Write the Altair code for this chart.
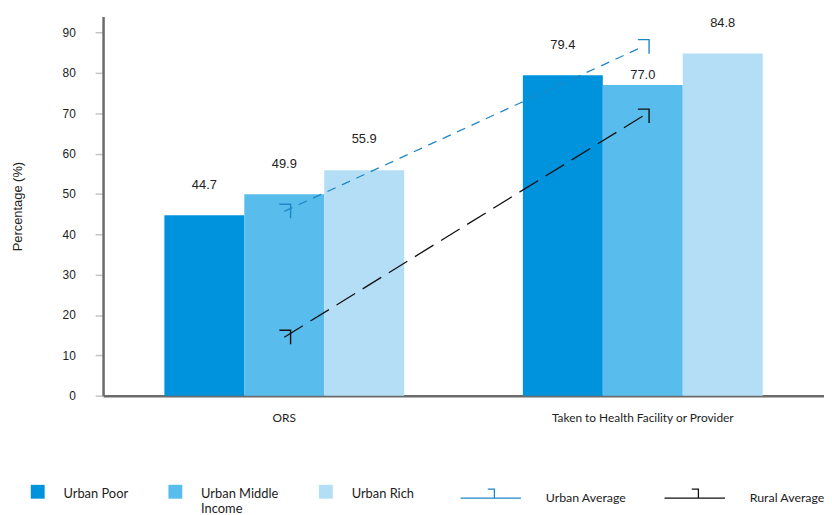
import altair as alt
import pandas as pd

# data
categories = ["ORS", "Taken to Health Facility or Provider"]
groups = ["Urban Poor", "Urban Middle Income", "Urban Rich"]
ors_values = [44.7, 49.9, 55.9]
health_values = [79.4, 77.0, 84.8]
series = ["Urban Average", "Rural Average"]
urban_avg = [45.7, 86.5]
rural_avg = [14.5, 69.3]
y_ticks = [0, 10, 20, 30, 40, 50, 60, 70, 80, 90]

bar_colors = ["#0093dd", "#58bcec", "#b4def6"]
line_colors = ["#1f87c6", "#111111"]
# marker glyph and legend symbols (svg paths, unit box)
HOOK = "M-0.7,-1H0.9V1"
LINE_SYM = "M-1,0H1M-0.1,-0.3H0.12V0"
SQUARE_SYM = "M-0.467,-0.633H0.467V0.3H-0.467Z"

bars_df = pd.DataFrame({
    "cat": [categories[0]] * 3 + [categories[1]] * 3,
    "group": groups * 2,
    "value": ors_values + health_values,
})
lines_df = pd.DataFrame({
    "cat": categories * 2,
    "series": [series[0]] * 2 + [series[1]] * 2,
    "value": urban_avg + rural_avg,
})

x_enc = alt.X("cat:N", sort=categories, title=None,
              scale=alt.Scale(paddingInner=0.331, paddingOuter=0.171),
              axis=alt.Axis(ticks=False, labelAngle=0, labelPadding=17, labelLimit=400,
                            labelFont="Lato", labelFontSize=12, labelColor="#222",
                            domainColor="#6b6b6b", domainWidth=2.5))
y_scale = alt.Scale(domain=[0, 94], nice=False)
y_enc = alt.Y("value:Q", scale=y_scale, title="Percentage (%)",
              axis=alt.Axis(values=y_ticks, grid=False, tickSize=8, tickColor="#c4c4c4",
                            tickWidth=1.5, labelPadding=20, labelFont="Liberation Sans",
                            labelFontSize=12, labelColor="#222", domainColor="#6b6b6b",
                            domainWidth=2.5, titleFont="Liberation Sans", titleFontSize=13,
                            titleFontWeight="normal", titleColor="#222", titlePadding=38))

bar_legend = alt.Legend(
    orient="none", legendX=-81, legendY=467.5, direction="horizontal", title=None,
    symbolType=SQUARE_SYM, symbolSize=900, symbolStrokeWidth=0,
    labelFont="Lato", labelFontSize=13, labelColor="#222", labelOffset=11,
    columnPadding=32, labelLimit=200,
    labelExpr="datum.label == 'Urban Middle Income' ? ['Urban Middle', 'Income'] : [datum.label, '']",
)

bars = alt.Chart(bars_df).mark_bar().encode(
    x=x_enc,
    xOffset=alt.XOffset("group:N", sort=groups,
                        scale=alt.Scale(paddingInner=0, paddingOuter=0)),
    y=y_enc,
    color=alt.Color("group:N", sort=groups,
                    scale=alt.Scale(domain=groups, range=bar_colors),
                    legend=bar_legend),
)

label_enc = dict(
    x=alt.X("cat:N", sort=categories),
    xOffset=alt.XOffset("group:N", sort=groups),
    y=alt.Y("value:Q"),
    text=alt.Text("value:Q", format=".1f"),
)
# the middle-income label of the second group sits close to its bar
tucked = (alt.datum.cat == categories[1]) & (alt.datum.group == groups[1])

labels = alt.Chart(bars_df).mark_text(
    dy=-31, font="Liberation Sans", fontSize=13, color="#222"
).encode(**label_enc).transform_filter(~tucked)

labels_tucked = alt.Chart(bars_df).mark_text(
    dy=-10, font="Liberation Sans", fontSize=13, color="#222"
).encode(**label_enc).transform_filter(tucked)

line_legend = alt.Legend(
    orient="none", legendX=360, legendY=455, direction="horizontal", title=None,
    symbolType=LINE_SYM, symbolSize=3721, symbolStrokeWidth=1.3,
    labelFont="Lato", labelFontSize=12.5, labelColor="#222", labelOffset=24,
    columnPadding=35,
)
line_scale = alt.Scale(domain=series, range=line_colors)

lines = alt.Chart(lines_df).mark_line(strokeWidth=1.3).encode(
    x=alt.X("cat:N", sort=categories),
    y=alt.Y("value:Q"),
    color=alt.Color("series:N", sort=series, scale=line_scale, legend=line_legend),
    strokeDash=alt.StrokeDash("series:N", sort=series,
                              scale=alt.Scale(domain=series, range=[[9, 7], [22, 9]]),
                              legend=None),
)

markers = alt.Chart(lines_df).mark_point(
    shape=HOOK, filled=False, size=200, strokeWidth=1.4, opacity=1
).encode(
    x=alt.X("cat:N", sort=categories),
    y=alt.Y("value:Q"),
    color=alt.Color("series:N", sort=series, scale=line_scale, legend=None),
)

chart = alt.layer(bars, labels, labels_tucked, lines, markers).resolve_scale(
    color="independent"
).properties(
    width=728, height=383,
    autosize=alt.AutoSizeParams(type="none"),
    padding={"left": 96, "top": 6, "right": 0, "bottom": 120},
).configure_view(stroke=None)

chart.save("out.html", embed_options={"renderer": "svg", "actions": False})
